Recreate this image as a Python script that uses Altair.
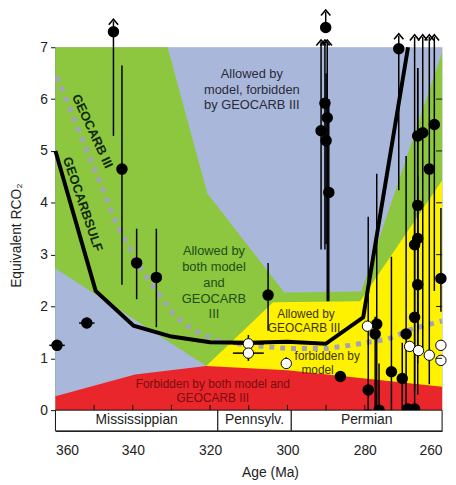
import altair as alt
import pandas as pd

FONT = "Liberation Sans"

# ---------------- region boundaries (Age in Ma, Equivalent RCO2) ----------------
plot_age_range = [360, 260]
plot_val_range = [0, 7]
green_top_age = [360, 331, 320.7, 300.8, 280.9, 260]
green_top_val = [7.0, 7.0, 4.18, 2.27, 2.29, 6.9]
blue_left_age = [360, 321]
blue_left_val = [2.73, 0.85]
yellow_top_age = [321, 303.7, 281.2, 260]
yellow_top_val = [0.85, 2.08, 2.10, 4.43]
red_top_age = [360, 339.4, 321, 300, 260]
red_top_val = [0.27, 0.69, 0.85, 0.77, 0.45]

# ---------------- model curves ----------------
geocarbsulf_age = [360, 349.6, 339.8, 330, 320, 310, 300, 290.1, 280.4, 268.8]
geocarbsulf_val = [5.0, 2.30, 1.63, 1.42, 1.31, 1.30, 1.32, 1.28, 1.79, 7.0]
geocarb3_age = [359.6, 343.9, 337.3, 329.2, 324.1, 317.7, 310, 300, 290, 284, 274, 268, 260]
geocarb3_val = [6.43, 3.54, 2.66, 1.82, 1.53, 1.34, 1.25, 1.19, 1.19, 1.25, 1.37, 1.56, 1.72]

# ---------------- proxy data: black points ----------------
pt_age = [359.6, 351.9, 345.0, 342.8, 339.0, 333.9, 305.0,
          290.1, 290.3, 289.7, 291.3, 290.0, 289.3, 286.3,
          271.2, 266.3, 265.0, 262.0, 263.3, 266.3, 266.3, 267.1, 266.3,
          260.3, 267.1, 269.3, 270.3, 273.1, 276.9, 277.3, 279.1, 276.3,
          268.8, 267.1]
pt_val = [1.25, 1.68, 7.30, 4.65, 2.84, 2.56, 2.22,
          7.38, 5.92, 5.64, 5.39, 5.20, 4.20, 0.65,
          6.97, 5.29, 5.35, 5.51, 4.65, 3.95, 3.31, 3.19, 2.42,
          2.54, 1.79, 1.47, 0.61, 0.74, 1.66, 1.47, 0.39, 0.0,
          0.02, 0.02]
pt_lo = [1.15, 1.58, 5.29, 2.42, 2.14, 1.60, 1.53,
         7.38, 3.10, 2.10, 3.10, 3.20, 2.10, 0.65,
         4.24, 0.90, 1.20, 2.30, 0.50, 1.00, 1.50, 0.40, 0.30,
         1.90, 0.00, 0.00, 0.00, 0.00, 0.00, 0.00, -0.05, 0.0,
         0.02, 0.02]
pt_hi = [1.35, 1.78, 7.50, 6.65, 3.50, 3.50, 2.84,
         7.68, 7.10, 7.10, 7.10, 6.50, 6.00, 0.65,
         7.22, 6.60, 7.20, 7.20, 7.20, 6.60, 4.50, 7.20, 3.80,
         3.90, 4.00, 4.90, 1.30, 2.96, 4.56, 1.80, 3.73, 0.90,
         0.02, 0.02]
pt_up = [0, 0, 1, 0, 0, 0, 0,
         1, 1, 1, 1, 0, 0, 0,
         1, 0, 1, 1, 1, 0, 0, 1, 0,
         0, 0, 0, 0, 0, 0, 0, 0, 0,
         0, 0]
pt_down = [0] * 30 + [1, 0, 0, 0]
pt_xerr = [2, 2] + [0] * 32

# ---------------- proxy data: white points ----------------
wt_age = [310.1, 310.1, 300.3, 279.3, 268.4, 266.1, 263.3, 260.3, 260.3]
wt_val = [1.28, 1.10, 0.90, 1.62, 1.23, 1.15, 1.06, 1.25, 0.96]
wt_lo = [1.28, 0.95, 0.90, 1.62, 1.23, 1.15, 1.06, 1.25, 0.96]
wt_hi = [1.45, 1.10, 1.02, 1.62, 1.23, 1.15, 1.06, 1.25, 0.96]
wt_xerr = [4, 4, 0, 0, 0, 0, 0, 0, 0]

# ---------------- periods ----------------
period_names = ["Mississippian", "Pennsylv.", "Permian"]
period_start = [360, 318, 299]
period_end = [318, 299, 260]

# ---------------- ticks ----------------
x_label_values = [360, 340, 320, 300, 280, 260]
x_minor_ticks = [350, 340, 330, 320, 310, 300, 290, 280, 270]
y_label_values = [0, 1, 2, 3, 4, 5, 6, 7]
y_inner_ticks = [1, 2, 3, 4, 5, 6]

# ---------------- annotations ----------------
ann_top_text = ["Allowed by", "model, forbidden", "by GEOCARB III"]
ann_top_age = [309.2, 309.2, 309.2]
ann_top_val = [6.49, 6.17, 5.88]
ann_green_text = ["Allowed by", "both model", "and", "GEOCARB", "III"]
ann_green_age = [319.0] * 5
ann_green_val = [3.06, 2.76, 2.46, 2.15, 1.85]
ann_yellow_text = ["Allowed by", "GEOCARB III", "forbidden by", "model"]
ann_yellow_age = [295.2, 295.7, 289.7, 292.2]
ann_yellow_val = [1.85, 1.58, 1.04, 0.77]
ann_red_text = ["Forbidden by both model and", "GEOCARB III"]
ann_red_age = [319.3, 319.3]
ann_red_val = [0.50, 0.23]
curve_label_text = ["GEOCARB III", "GEOCARBSULF"]
curve_label_age = [350.5, 353.0]
curve_label_val = [5.38, 3.97]
curve_label_angle = [65, 71]

# colours
BLUE = "#a9b8da"
GREEN = "#8dc63f"
YELLOW = "#fff200"
RED = "#e8262b"

xs = alt.Scale(domain=[260, 360], reverse=True, nice=False, zero=False)
ys = alt.Scale(domain=[-0.4, 7], nice=False, zero=False)
xax = alt.Axis(values=x_label_values, format="d", title="Age (Ma)", grid=False,
               ticks=False, tickSize=0, labelPadding=13, labelFontSize=14,
               labelFont=FONT, titleFont=FONT, titleFontSize=14, titleFontWeight="normal",
               labelColor="#222", titleColor="#222", domainColor="#111",
               titleX=217, titleY=35, titleBaseline="top")
yax = alt.Axis(values=y_label_values, title="Equivalent RCO₂", grid=False,
               tickSize=5, tickColor="#111", labelPadding=3, labelFontSize=14,
               labelFont=FONT, titleFont=FONT, titleFontSize=14, titleFontWeight="normal",
               labelColor="#222", titleColor="#222", domainColor="#111",
               titleX=-32, titleY=190)


def X(f):
    return alt.X(f"{f}:Q", scale=xs, axis=xax)


def Y(f):
    return alt.Y(f"{f}:Q", scale=ys, axis=yax)


def df(**kw):
    return pd.DataFrame(kw)


def area(ages, vals, color):
    return alt.Chart(df(age=ages, val=vals)).mark_area(color=color, opacity=1).encode(
        x=X("age"), y=Y("val"), y2=alt.datum(0))


layers = []
# blue background of the plot region
layers.append(alt.Chart(df(a0=[plot_age_range[0]], a1=[plot_age_range[1]],
                           v0=[plot_val_range[0]], v1=[plot_val_range[1]])).mark_rect(
    fill=BLUE, opacity=1).encode(x=X("a0"), x2="a1:Q", y=Y("v0"), y2="v1:Q"))
layers.append(area(green_top_age, green_top_val, GREEN))
layers.append(area(blue_left_age, blue_left_val, BLUE))
layers.append(area(yellow_top_age, yellow_top_val, YELLOW))
layers.append(area(red_top_age, red_top_val, RED))


def texts(t, a, v, color, size, weight="normal"):
    return alt.Chart(df(t=t, age=a, val=v)).mark_text(
        font=FONT, fontSize=size, color=color, fontWeight=weight, baseline="middle"
    ).encode(x=X("age"), y=Y("val"), text="t:N")


layers.append(texts(ann_top_text, ann_top_age, ann_top_val, "#2b2b3a", 13))
layers.append(texts(ann_green_text, ann_green_age, ann_green_val, "#1d4f16", 13))
layers.append(texts(ann_yellow_text, ann_yellow_age, ann_yellow_val, "#3d3500", 12))
layers.append(texts(ann_red_text, ann_red_age, ann_red_val, "#7a0d0d", 12))
for t, a, v, ang in zip(curve_label_text, curve_label_age, curve_label_val, curve_label_angle):
    layers.append(alt.Chart(df(t=[t], age=[a], val=[v])).mark_text(
        font=FONT, fontSize=13, fontWeight="bold", color="#0f2a0a", angle=ang, baseline="middle"
    ).encode(x=X("age"), y=Y("val"), text="t:N"))

# curves
layers.append(alt.Chart(df(age=geocarb3_age, val=geocarb3_val)).mark_line(
    color="#a2a3b6", strokeWidth=5, strokeDash=[5, 6], strokeCap="butt"
).encode(x=X("age"), y=Y("val")))
layers.append(alt.Chart(df(age=geocarbsulf_age, val=geocarbsulf_val)).mark_line(
    color="#000000", strokeWidth=4, strokeJoin="miter"
).encode(x=X("age"), y=Y("val")))

# error bars
pts = df(age=pt_age, val=pt_val, lo=pt_lo, hi=pt_hi, up=pt_up, down=pt_down, xerr=pt_xerr)
pts["xl"] = pts["age"] + pts["xerr"]
pts["xr"] = pts["age"] - pts["xerr"]
wts = df(age=wt_age, val=wt_val, lo=wt_lo, hi=wt_hi, xerr=wt_xerr)
wts["xl"] = wts["age"] + wts["xerr"]
wts["xr"] = wts["age"] - wts["xerr"]

for d in (pts, wts):
    vb = d[d["hi"] > d["lo"]]
    layers.append(alt.Chart(vb).mark_rule(color="#000", strokeWidth=1.5).encode(
        x=X("age"), y=Y("lo"), y2="hi:Q"))
    hb = d[d["xerr"] > 0]
    layers.append(alt.Chart(hb).mark_rule(color="#000", strokeWidth=1.5).encode(
        x=X("xl"), x2="xr:Q", y=Y("val")))

# arrows
layers.append(alt.Chart(pts[pts["up"] == 1]).mark_point(
    shape="M-1,0.75L0,-0.45L1,0.75", filled=False, color="#000", strokeWidth=1.6, size=90, opacity=1
).encode(x=X("age"), y=Y("hi")))
layers.append(alt.Chart(pts[pts["down"] == 1]).mark_point(
    shape="triangle-down", filled=True, color="#000", size=60, opacity=1
).encode(x=X("age"), y=Y("lo")))

# points
layers.append(alt.Chart(pts).mark_point(
    shape="circle", filled=True, color="#000", size=135, opacity=1
).encode(x=X("age"), y=Y("val")))
layers.append(alt.Chart(wts).mark_point(
    shape="circle", filled=True, fill="#ffffff", stroke="#000", strokeWidth=1, size=110, opacity=1
).encode(x=X("age"), y=Y("val")))

# period band
per = df(name=period_names, start=period_start, end=period_end)
per["mid"] = (per["start"] + per["end"]) / 2
layers.append(alt.Chart(per).mark_rect(fill="#ffffff", stroke="#111", strokeWidth=1).encode(
    x=X("start"), x2="end:Q", y=alt.datum(-0.4), y2=alt.datum(0)))
layers.append(alt.Chart(per).mark_text(font=FONT, fontSize=14, color="#222", baseline="middle").encode(
    x=X("mid"), y=alt.datum(-0.2), text="name:N"))

# inward ticks
layers.append(alt.Chart(df(age=x_minor_ticks)).mark_rule(color="#111", strokeWidth=1).encode(
    x=X("age"), y=alt.datum(0), y2=alt.datum(0.1)))
layers.append(alt.Chart(df(val=y_inner_ticks)).mark_rule(color="#111", strokeWidth=1).encode(
    y=Y("val"), x=alt.value(385), x2=alt.value(391)))

chart = alt.layer(*layers).properties(
    width=391, height=388,
    autosize=alt.AutoSizeParams(type="none"),
    padding={"left": 48, "top": 37, "right": 6, "bottom": 50},
).configure_view(
    stroke="#222", strokeWidth=1
).configure(font=FONT)

chart.save("out.html", embed_options={"renderer": "svg", "actions": False})
